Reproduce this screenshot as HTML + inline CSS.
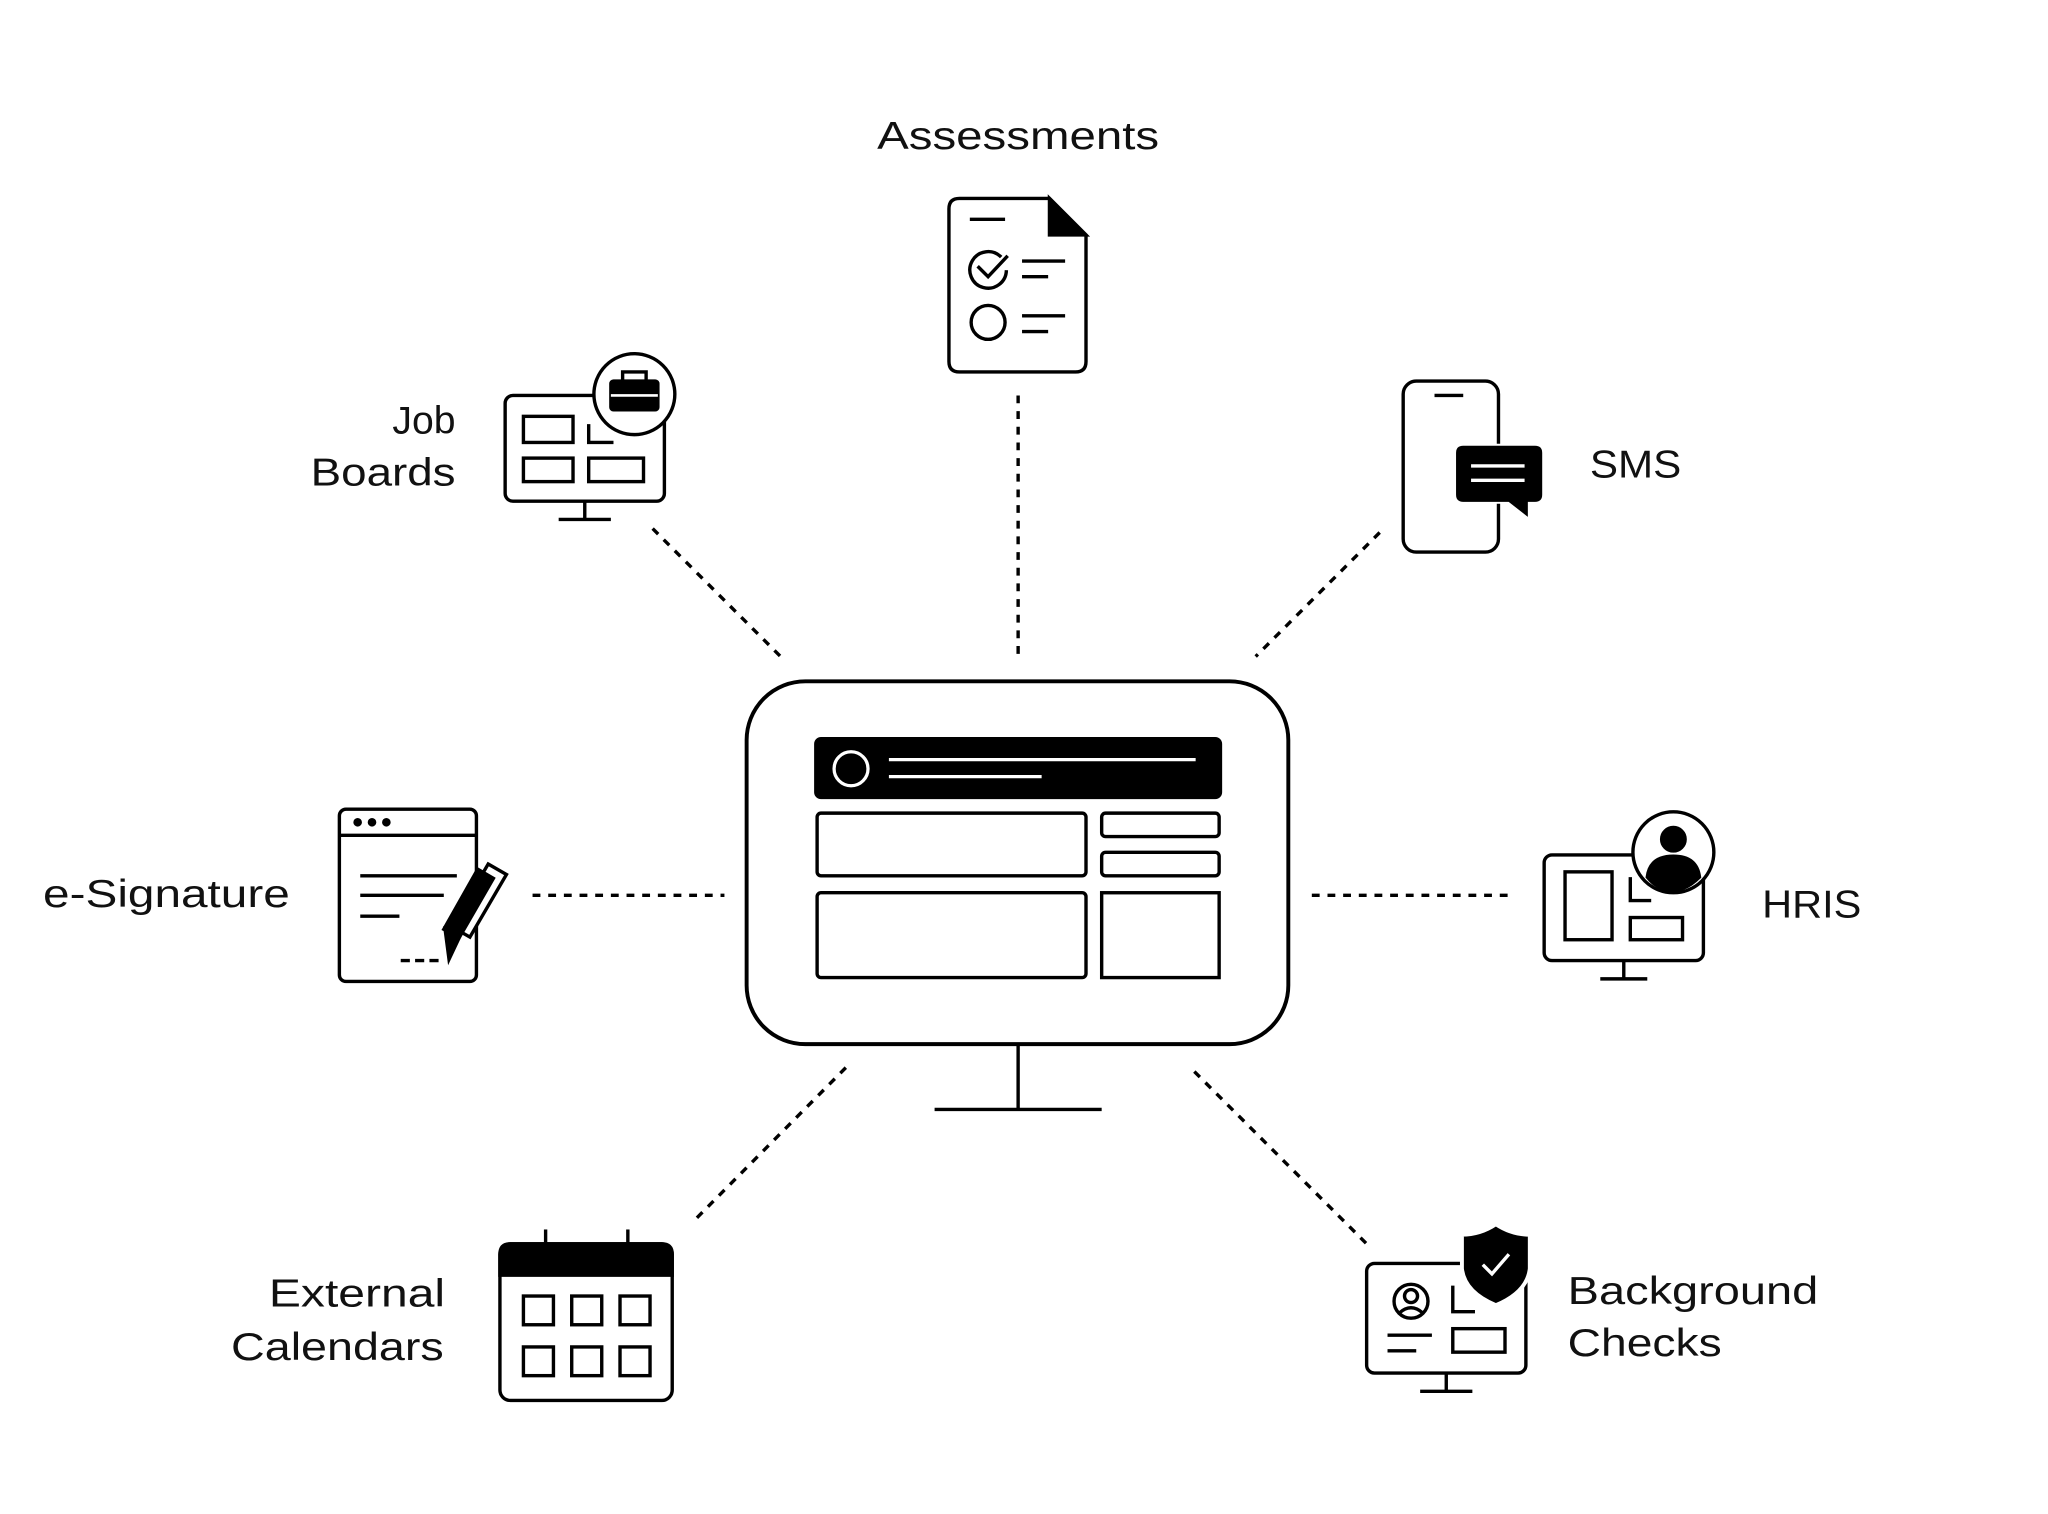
<!DOCTYPE html>
<html><head><meta charset="utf-8"><style>html,body{margin:0;padding:0;background:#fff}svg{display:block}text{font-family:"Liberation Sans",sans-serif;font-size:30px;fill:#111}</style></head>
<body>
<svg width="2048" height="1514" viewBox="0 0 1569 1160" preserveAspectRatio="none" xmlns="http://www.w3.org/2000/svg">
<g stroke="#000" stroke-width="2.6" fill="none">
<g stroke-dasharray="6 6">
<line x1="780" y1="303" x2="780" y2="503"/>
<line x1="500" y1="405" x2="598" y2="503"/>
<line x1="1057" y1="408" x2="962" y2="503"/>
<line x1="408" y1="686" x2="555" y2="686"/>
<line x1="1005" y1="686" x2="1160" y2="686"/>
<line x1="648" y1="818" x2="530" y2="937"/>
<line x1="915" y1="821" x2="1047" y2="953"/>
</g>
<rect x="572" y="522" width="415" height="278" rx="45" stroke-width="3"/>
<line x1="780" y1="800" x2="780" y2="850"/>
<line x1="716" y1="850" x2="844" y2="850"/>
<rect x="625" y="566" width="310" height="45" rx="4" fill="#000"/>
<circle cx="652" cy="589" r="13" stroke="#fff" stroke-width="2.5"/>
<line x1="681" y1="582" x2="916" y2="582" stroke="#fff" stroke-width="2.5"/>
<line x1="681" y1="595" x2="798" y2="595" stroke="#fff" stroke-width="2.5"/>
<rect x="626" y="623" width="206" height="48" rx="3"/>
<rect x="844" y="623" width="90" height="18" rx="3"/>
<rect x="844" y="653" width="90" height="18" rx="3"/>
<rect x="626" y="684" width="206" height="65" rx="3"/>
<rect x="844" y="684" width="90" height="65"/>
<path d="M735 152 H804 L832 180 V277 Q832 285 824 285 H735 Q727 285 727 277 V160 Q727 152 735 152Z"/>
<path d="M804 152 L832 180 H804Z" fill="#000"/>
<line x1="743" y1="168" x2="770" y2="168"/>
<path d="M767 197 A14 14 0 1 0 771 207"/>
<path d="M749 204 L757 212 L772 196"/>
<line x1="783" y1="200" x2="816" y2="200"/><line x1="783" y1="212" x2="803" y2="212"/>
<circle cx="757" cy="247" r="13"/>
<line x1="783" y1="242" x2="816" y2="242"/><line x1="783" y1="254" x2="803" y2="254"/>
<rect x="387" y="303" width="122" height="81" rx="6"/>
<line x1="448" y1="384" x2="448" y2="398"/><line x1="428" y1="398" x2="468" y2="398"/>
<rect x="401" y="319" width="38" height="20"/>
<rect x="401" y="351" width="38" height="18"/>
<rect x="451" y="351" width="42" height="18"/>
<path d="M451 325 V339 H470"/>
<circle cx="486" cy="302" r="31" fill="#fff"/>
<rect x="468" y="292" width="36" height="22" rx="2" fill="#000"/>
<path d="M477 292 V285 H495 V292"/>
<line x1="468" y1="303" x2="504" y2="303" stroke="#fff" stroke-width="2"/>
<rect x="1075" y="292" width="73" height="131" rx="10"/>
<line x1="1099" y1="303" x2="1121" y2="303"/>
<path d="M1121 342 H1176 Q1181 342 1181 347 V379 Q1181 384 1176 384 H1170 V395 L1156 384 H1121 Q1116 384 1116 379 V347 Q1116 342 1121 342Z" fill="#000" stroke="#fff" stroke-width="4"/>
<path d="M1121 342 H1176 Q1181 342 1181 347 V379 Q1181 384 1176 384 H1170 V395 L1156 384 H1121 Q1116 384 1116 379 V347 Q1116 342 1121 342Z" fill="#000" stroke="#000" stroke-width="1"/>
<line x1="1127" y1="357" x2="1168" y2="357" stroke="#fff"/>
<line x1="1127" y1="368" x2="1168" y2="368" stroke="#fff"/>
<rect x="260" y="620" width="105" height="132" rx="5"/>
<line x1="260" y1="640" x2="365" y2="640"/>
<circle cx="274" cy="630" r="2" fill="#000"/><circle cx="285" cy="630" r="2" fill="#000"/><circle cx="296" cy="630" r="2" fill="#000"/>
<line x1="276" y1="671" x2="350" y2="671"/><line x1="276" y1="686" x2="340" y2="686"/><line x1="276" y1="702" x2="306" y2="702"/>
<line x1="307" y1="736" x2="336" y2="736" stroke-dasharray="7 4"/>
<path d="M374 662 L388 670 L360 718 L346 710Z" fill="#fff"/>
<path d="M366 666 L378 673 L352 718 L340 712Z" fill="#000"/>
<path d="M341 712 L352 718 L344 735Z" fill="#000"/>
<rect x="1183" y="655" width="122" height="81" rx="6"/>
<line x1="1244" y1="736" x2="1244" y2="750"/><line x1="1226" y1="750" x2="1262" y2="750"/>
<rect x="1199" y="668" width="36" height="52"/>
<path d="M1249 672 V690 H1265"/>
<rect x="1249" y="703" width="40" height="17"/>
<circle cx="1282" cy="653" r="31" fill="#fff"/>
<circle cx="1282" cy="643" r="9" fill="#000"/>
<path d="M1262 672 Q1264 656 1282 656 Q1300 656 1302 672 Q1292 682 1282 682 Q1270 682 1262 672Z" fill="#000"/>
<rect x="383" y="953" width="132" height="120" rx="8"/>
<path d="M383 977 V961 Q383 953 391 953 H507 Q515 953 515 961 V977Z" fill="#000"/>
<line x1="418" y1="942" x2="418" y2="953"/><line x1="481" y1="942" x2="481" y2="953"/>
<rect x="401" y="993" width="23" height="22"/><rect x="438" y="993" width="23" height="22"/><rect x="475" y="993" width="23" height="22"/>
<rect x="401" y="1032" width="23" height="22"/><rect x="438" y="1032" width="23" height="22"/><rect x="475" y="1032" width="23" height="22"/>
<rect x="1047" y="968" width="122" height="84" rx="6"/>
<line x1="1108" y1="1052" x2="1108" y2="1066"/><line x1="1088" y1="1066" x2="1128" y2="1066"/>
<circle cx="1081" cy="997" r="13"/>
<circle cx="1081" cy="993" r="5"/>
<path d="M1072 1006 Q1081 998 1090 1006"/>
<line x1="1063" y1="1023" x2="1097" y2="1023"/><line x1="1063" y1="1035" x2="1085" y2="1035"/>
<path d="M1113 985 V1005 H1130"/>
<rect x="1113" y="1018" width="40" height="18"/>
<path d="M1146 938 Q1158 946 1172 946 V972 Q1170 990 1146 1000 Q1122 990 1120 972 V946 Q1134 946 1146 938Z" fill="#000" stroke="#fff" stroke-width="3"/>
<path d="M1136 969 L1143 976 L1156 961" stroke="#fff" stroke-width="2.6"/>
</g>
<text x="672" y="114" textLength="216" lengthAdjust="spacingAndGlyphs">Assessments</text>
<text x="349" y="332" text-anchor="end">Job</text>
<text x="238" y="372" textLength="111" lengthAdjust="spacingAndGlyphs">Boards</text>
<text x="1218" y="366" textLength="70" lengthAdjust="spacingAndGlyphs">SMS</text>
<text x="33" y="695" textLength="189" lengthAdjust="spacingAndGlyphs">e-Signature</text>
<text x="1350" y="703" textLength="76" lengthAdjust="spacingAndGlyphs">HRIS</text>
<text x="206" y="1001" textLength="135" lengthAdjust="spacingAndGlyphs">External</text>
<text x="177" y="1042" textLength="163" lengthAdjust="spacingAndGlyphs">Calendars</text>
<text x="1201" y="999" textLength="192" lengthAdjust="spacingAndGlyphs">Background</text>
<text x="1201" y="1039" textLength="118" lengthAdjust="spacingAndGlyphs">Checks</text>
</svg>
</body></html>
